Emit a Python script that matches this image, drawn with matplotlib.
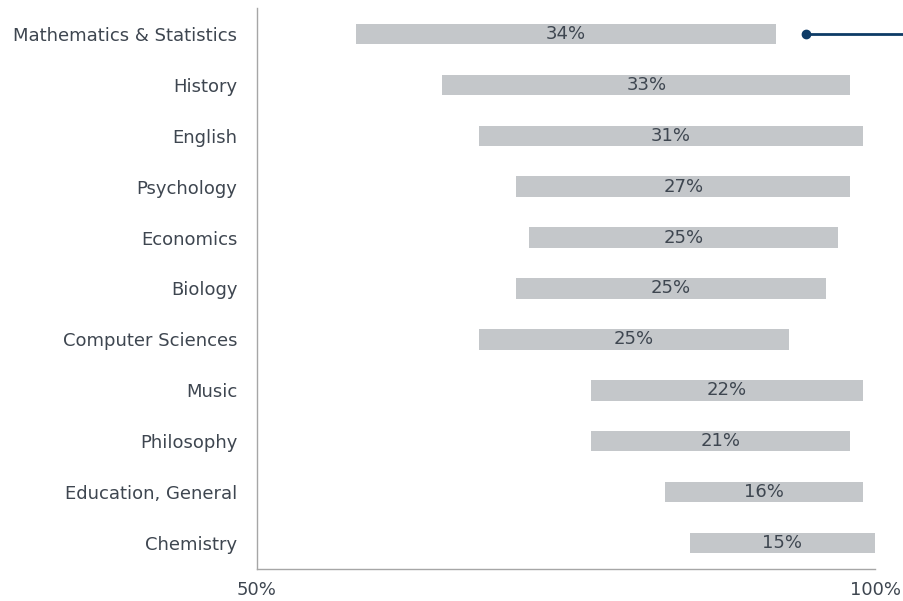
import matplotlib.pyplot as plt

plt.rcParams["font.family"] = ["DejaVu Sans"]

majors = ["Mathematics & Statistics", "History", "English", "Psychology",
          "Economics", "Biology", "Computer Sciences", "Music", "Philosophy",
          "Education, General", "Chemistry"]
low = [58, 65, 68, 71, 72, 71, 68, 77, 77, 83, 85]
high = [92, 98, 99, 98, 97, 96, 93, 99, 98, 99, 100]
gap_labels = ["34%", "33%", "31%", "27%", "25%", "25%", "25%", "22%", "21%", "16%", "15%"]

# marker for the annotation on the first row
marker_x = 94.4
marker_end = 102.5

bar_color = "#c4c7ca"
text_color = "#3e4650"
navy = "#0d3b66"

fig = plt.figure(figsize=(9.04, 6.01), dpi=100)
ax = fig.add_axes([0.284, 0.054, 0.684, 0.932])

ypos = list(range(len(majors)))
widths = [h - l for l, h in zip(low, high)]
ax.barh(ypos, widths, left=low, height=0.4, color=bar_color)

for y, l, h, lab in zip(ypos, low, high, gap_labels):
    ax.text((l + h) / 2, y, lab, ha="center", va="center",
            fontsize=13, color=text_color)

ax.plot([marker_x, marker_end], [0, 0], color=navy, lw=2, clip_on=False,
        solid_capstyle="butt")
ax.plot([marker_x], [0], "o", color=navy, ms=6, clip_on=False)

ax.set_xlim(50, 100)
ax.set_ylim(len(majors) - 0.5, -0.5)
ax.set_yticks(ypos)
ax.set_yticklabels(majors)
ax.set_xticks([50, 100])
ax.set_xticklabels(["50%", "100%"])
ax.tick_params(length=0, labelsize=13, colors=text_color)
ax.tick_params(axis="y", pad=14)
ax.tick_params(axis="x", pad=9)

for side in ["top", "right"]:
    ax.spines[side].set_visible(False)
for side in ["left", "bottom"]:
    ax.spines[side].set_color("#a6a6a6")
    ax.spines[side].set_linewidth(1)

fig.savefig("out.png", dpi=100)
